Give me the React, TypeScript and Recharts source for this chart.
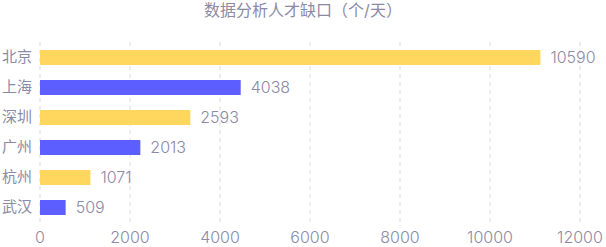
import { BarChart, Bar, XAxis, YAxis, CartesianGrid, Cell, LabelList } from "recharts";

const cities = ["北京", "上海", "深圳", "广州", "杭州", "武汉"];
// bar lengths as drawn in the picture
const barValues = [11120, 4460, 3340, 2230, 1120, 570];
// numbers printed beside the bars
const labels = [10590, 4038, 2593, 2013, 1071, 509];
const xTicks = [0, 2000, 4000, 6000, 8000, 10000, 12000];

const COLORS = ["#ffd75e", "#5c5eff"];
const TEXT = "#8c8aa6";
const FONT = "Inter, 'Noto Sans CJK SC', sans-serif";

const data = cities.map((city, i) => ({
  city,
  value: barValues[i],
  label: labels[i],
}));

export default function App() {
  return (
    <div style={{ position: "absolute", left: 0, top: 0, width: 606, height: 247, fontFamily: FONT }}>
      <div
        style={{
          position: "absolute",
          top: 0,
          left: 0,
          width: 606,
          textAlign: "center",
          fontSize: 16,
          color: TEXT,
          lineHeight: "20px",
        }}
      >
        数据分析人才缺口（个/天）
      </div>
      <BarChart
        width={606}
        height={247}
        data={data}
        layout="vertical"
        margin={{ top: 42, right: 26, bottom: 0, left: 0 }}
      >
        <CartesianGrid horizontal={false} strokeDasharray="4 4" stroke="#dcdce4" />
        <XAxis
          type="number"
          domain={[0, 12000]}
          ticks={xTicks}
          axisLine={false}
          tickLine={false}
          tickMargin={4}
          height={25}
          tick={{ fontSize: 16, fill: TEXT, fontFamily: FONT, fontWeight: 300 }}
        />
        <YAxis
          type="category"
          dataKey="city"
          width={40}
          axisLine={false}
          tickLine={false}
          tick={{ fontSize: 15, fill: TEXT, fontFamily: FONT }}
        />
        <Bar dataKey="value" barSize={15} isAnimationActive={false}>
          {data.map((d, i) => (
            <Cell key={d.city} fill={COLORS[i % 2]} />
          ))}
          <LabelList
            dataKey="label"
            position="right"
            offset={10}
            style={{ fontSize: 16, fill: TEXT, fontFamily: FONT, fontWeight: 300 }}
          />
        </Bar>
      </BarChart>
    </div>
  );
}
